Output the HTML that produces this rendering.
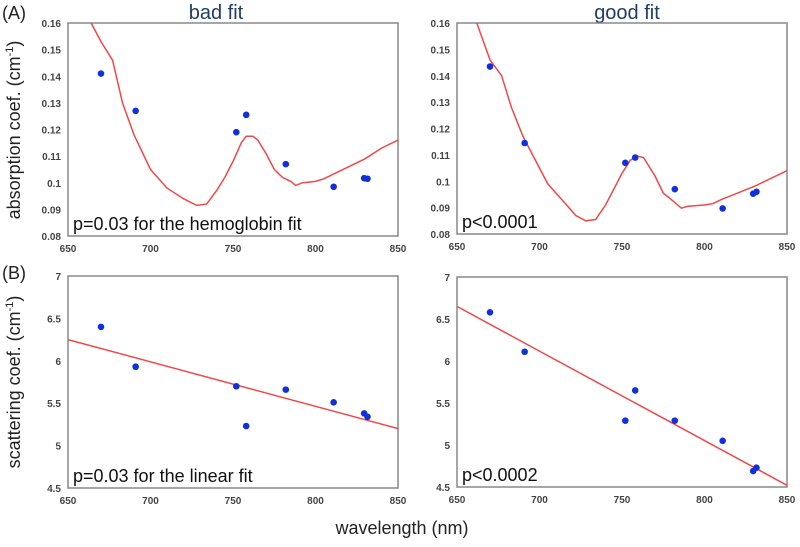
<!DOCTYPE html>
<html><head><meta charset="utf-8"><style>
body{margin:0;background:#fff;}
svg{display:block;font-family:"Liberation Sans",sans-serif;}
.tick{font-size:10px;font-weight:bold;fill:#444;}
.ann{font-size:18px;fill:#111;}
.ttl{font-size:20px;fill:#1f3d66;}
.lab{font-size:18px;fill:#222;}
</style></head><body>
<svg id="fig" width="800" height="547">
<text x="2" y="19" class="lab">(A)</text>
<text x="2" y="279" class="lab">(B)</text>
<text x="216" y="19" class="ttl" text-anchor="middle">bad fit</text>
<text x="627" y="19" class="ttl" text-anchor="middle">good fit</text>
<text transform="translate(20,130) rotate(-90)" class="lab" text-anchor="middle">absorption coef. (cm<tspan font-size="11" dy="-7">-1</tspan><tspan dy="7">)</tspan></text>
<text transform="translate(20,382) rotate(-90)" class="lab" text-anchor="middle">scattering coef. (cm<tspan font-size="11" dy="-7">-1</tspan><tspan dy="7">)</tspan></text>
<text x="402" y="534" class="lab" text-anchor="middle">wavelength (nm)</text>
</svg>
<script>
const wl=[670,691,752,758,782,811,829.5,831.5];
const absBad=[0.141,0.127,0.119,0.1255,0.107,0.0985,0.1017,0.1015];
const absGood=[0.1435,0.1145,0.107,0.109,0.097,0.0897,0.0953,0.096];
const scatBad=[6.4,5.93,5.7,5.23,5.66,5.51,5.38,5.34];
const scatGood=[6.58,6.11,5.29,5.65,5.29,5.05,4.69,4.73];
const curveX=[664,670,677,683,690,700,710,720,728,734,740,745,750,755,758,762,765,770,775,780,785,788,792,800,805,810,820,830,840,850];
const curveBad=[0.16,0.153,0.146,0.130,0.118,0.105,0.098,0.094,0.0915,0.092,0.097,0.102,0.108,0.115,0.1175,0.1175,0.116,0.111,0.105,0.102,0.1005,0.099,0.1,0.1005,0.1015,0.103,0.106,0.109,0.113,0.116];
const curveGoodX=[662,670,677,683,690,700,705,715,722,728,734,740,745,750,755,759,763,770,775,780,786,790,800,805,810,820,830,840,850];
const curveGood=[0.16,0.146,0.14,0.128,0.117,0.105,0.099,0.092,0.087,0.085,0.0855,0.091,0.097,0.103,0.108,0.1095,0.109,0.102,0.0955,0.093,0.0898,0.0905,0.091,0.0915,0.093,0.0955,0.098,0.101,0.104];
const lineX=[650,850];
const lineBad=[6.25,5.2];
const lineGood=[6.65,4.52];
const xTicks=[650,700,750,800,850];
const absTicks=[0.08,0.09,0.1,0.11,0.12,0.13,0.14,0.15,0.16];
const absTickLabels=["0.08","0.09","0.1","0.11","0.12","0.13","0.14","0.15","0.16"];
const scatTicks=[4.5,5,5.5,6,6.5,7];
const scatTickLabels=["4.5","5","5.5","6","6.5","7"];
const NS="http://www.w3.org/2000/svg";
const svg=document.getElementById('fig');
function el(t,a,p){const e=document.createElementNS(NS,t);for(const k in a)e.setAttribute(k,a[k]);(p||svg).appendChild(e);return e;}
function panel(name,L,R,T,B,ymin,ymax,yt,ytl,pts,cx,cy,ann){
  const g=el('g',{});
  
  
  const sx=v=>L+(v-650)/200*(R-L), sy=v=>B-(v-ymin)/(ymax-ymin)*(B-T);
  const fr=el('rect',{x:L,y:T,width:R-L,height:B-T,fill:'none',stroke:'#888','stroke-width':1.5},g);
  
  
  xTicks.forEach(v=>{const t=el('text',{x:sx(v),y:B+16,'text-anchor':'middle',class:'tick'},g);t.textContent=v;
    
    });
  yt.forEach((v,i)=>{const t=el('text',{x:L-7,y:sy(v)+4,'text-anchor':'end',class:'tick'},g);t.textContent=ytl[i];
    
    });
  const d=cx.map((x,i)=>(i?'L':'M')+sx(x).toFixed(1)+','+sy(cy[i]).toFixed(1)).join('');
  const ln=el('path',{d:d,fill:'none',stroke:'#f04848','stroke-width':1.5},g);
  
  
  wl.forEach((x,i)=>{const c=el('circle',{cx:sx(x),cy:sy(pts[i]),r:3.3,fill:'#1030d8'},g);
    
    });
  const a=el('text',{x:L+5,y:B-6,class:'ann'},g);a.textContent=ann;
  
  
}
panel('absorption-bad-fit-panel',68,398,23,236,0.08,0.16,absTicks,absTickLabels,absBad,curveX,curveBad,'p=0.03 for the hemoglobin fit');
panel('absorption-good-fit-panel',457,787,23,234,0.08,0.16,absTicks,absTickLabels,absGood,curveGoodX,curveGood,'p<0.0001');
panel('scattering-bad-fit-panel',68,398,276,488,4.5,7,scatTicks,scatTickLabels,scatBad,lineX,lineBad,'p=0.03 for the linear fit');
panel('scattering-good-fit-panel',457,787,277,487,4.5,7,scatTicks,scatTickLabels,scatGood,lineX,lineGood,'p<0.0002');
</script>
</body></html>
